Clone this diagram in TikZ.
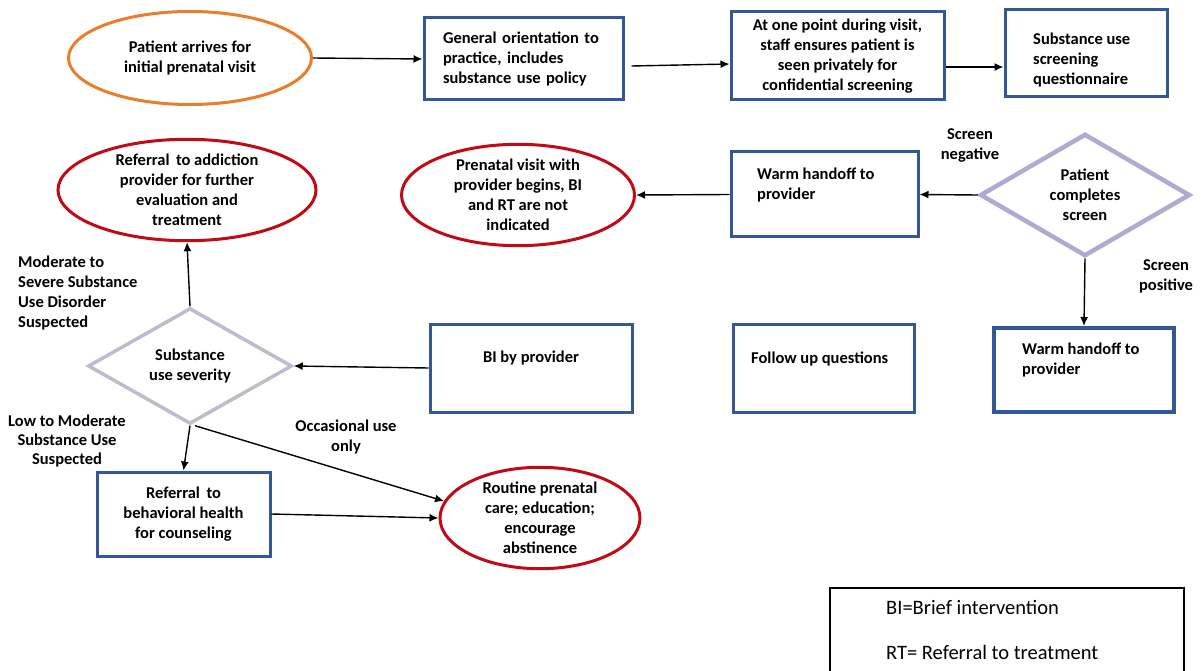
\documentclass[tikz,border=0pt]{standalone}
\usepackage{fontspec}
\setmainfont{Carlito}
\usetikzlibrary{shapes.geometric,arrows.meta}

\definecolor{boxblau}{RGB}{52,88,150}
\definecolor{orangerand}{RGB}{233,125,45}
\definecolor{rotrand}{RGB}{192,10,20}
\definecolor{lila}{RGB}{176,170,210}
\definecolor{graulila}{RGB}{188,188,204}

\begin{document}
\begin{tikzpicture}[x=1pt,y=-1pt,
  txt/.style={font=\bfseries\fontsize{16.5}{20}\selectfont, align=center, inner sep=0pt},
  kasten/.style={txt, draw=boxblau, line width=3pt, rectangle},
  oval/.style={txt, draw=rotrand, line width=3pt, ellipse, inner sep=0pt},
  raute/.style={txt, draw=lila, line width=4.5pt, diamond, inner sep=0pt},
  pfeil/.style={-{Latex[length=9pt,width=8pt]}, line width=1.4pt}]
  \useasboundingbox (0,0) rectangle (1202,671);

  % Obere Reihe
  \node[oval, draw=orangerand, minimum width=243, minimum height=93] (arrive) at (190,58)
    {Patient arrives for\\initial prenatal visit};
  \node[kasten, minimum width=199, minimum height=82, text width=161, inner xsep=19, align=left] (orient) at (523.5,59)
    {General orientation to\\practice, includes\\substance use policy};
  \node[kasten, minimum width=213, minimum height=88] (private) at (837.5,56)
    {At one point during visit,\\staff ensures patient is\\seen privately for\\confidential screening};
  \node[kasten, minimum width=162, minimum height=87] (quest) at (1086,53.5) {};
  \node[txt, anchor=west, align=left] (questtxt) at (1033,60) {Substance use\\screening\\questionnaire};

  \draw[pfeil] (arrive.east) -- (orient.west);
  \draw[pfeil] ([xshift=7,yshift=-7]orient.east) -- ([yshift=-8]private.west);
  \draw[pfeil] ([yshift=-11]private.east) -- ([yshift=-11]private.east -| quest.west);

  % Screening
  \node[raute, minimum width=210, minimum height=94] (screen) at (1085,195)
    {Patient\\completes\\screen};
  \node[kasten, minimum width=187, minimum height=85] (handoffA) at (824.5,194.5) {};
  \node[txt, anchor=west, align=left] (handoffAtxt) at (757,185) {Warm handoff to\\provider};
  \node[oval, minimum width=233, minimum height=90] (noBI) at (518,195)
    {Prenatal visit with\\provider begins, BI\\and RT are not\\indicated};
  \node[kasten, line width=4pt, minimum width=180, minimum height=84] (handoffB) at (1084,370) {};
  \node[txt, anchor=west, align=left] (handoffBtxt) at (1022,360) {Warm handoff to\\provider};

  \node[txt] (neg) at (970,145) {Screen\\negative};
  \node[txt] (pos) at (1166,276) {Screen\\positive};

  \draw[pfeil] (screen.west) -- (handoffA.east);
  \draw[pfeil] (handoffA.west) -- (noBI.east);
  \draw[pfeil] (screen.south) -- (handoffB.north);

  % Mittlere Reihe
  \node[kasten, minimum width=181, minimum height=88] (follow) at (823.5,368) {};
  \node[txt, anchor=west] (followtxt) at (751,359) {Follow up questions};
  \node[kasten, minimum width=202, minimum height=88] (bi) at (531,368) {};
  \node[txt] (bitxt) at (531,358) {BI by provider};
  \node[raute, draw=graulila, line width=3.5pt, minimum width=204, minimum height=107] (severity) at (190,366)
    {Substance\\use severity};
  \node[oval, minimum width=258, minimum height=100] (addict) at (187,190)
    {Referral\, to addiction\\provider for further\\evaluation and\\treatment};

  \draw[pfeil] (bi.west) -- (severity.east);
  \draw[pfeil] (severity.north) -- (addict.south);

  % Untere Reihe
  \node[kasten, minimum width=173, minimum height=84] (counsel) at (183.5,514)
    {Referral\, to\\behavioral health\\for counseling};
  \node[oval, minimum width=200, minimum height=100] (routine) at (540,518)
    {Routine prenatal\\care; education;\\encourage\\abstinence};

  \draw[pfeil] (severity.south) -- (counsel.north);
  \draw[pfeil] ([xshift=5]severity.south) -- (routine.170);
  \draw[pfeil] (counsel.east) -- (routine.west);

  % Beschriftung der Pfade
  \node[txt, anchor=west, align=left] (schwer) at (18,293)
    {Moderate to\\Severe Substance\\Use Disorder\\Suspected};
  \node[txt, font=\bfseries\fontsize{16.5}{19}\selectfont] (leicht) at (67,441)
    {Low to Moderate\\Substance Use\\Suspected};
  \node[txt] (gelegentlich) at (346,437) {Occasional use\\only};

  % Legende
  \node[anchor=west, inner sep=0pt, font=\fontsize{20.5}{24}\selectfont] (legBI) at (886,607) {BI=Brief intervention};
  \node[anchor=west, inner sep=0pt, font=\fontsize{20.5}{24}\selectfont] (legRT) at (886,652) {RT= Referral to treatment};
  \draw[line width=1.5pt] (830,675) |- (1184,588) -- (1184,675);

\end{tikzpicture}
\end{document}
